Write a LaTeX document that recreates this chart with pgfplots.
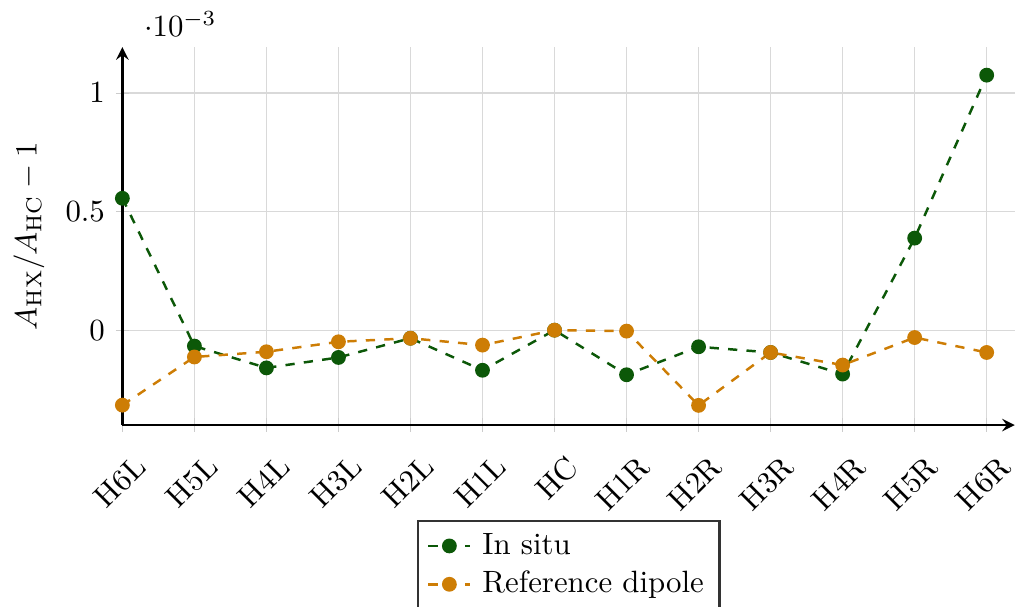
\documentclass[border=0pt]{standalone}
\usepackage{pgfplots}
\pgfplotsset{compat=1.18}
\definecolor{insitu}{RGB}{12,88,8}
\definecolor{refdip}{RGB}{205,125,5}
\begin{document}
\begin{tikzpicture}
\begin{axis}[
  scale only axis,
  width=289.5pt, height=122.6pt,
  axis lines=left,
  axis line style={line width=0.8pt},
  xmin=0, xmax=12.39,
  ymin=-0.4e-3, ymax=1.193e-3,
  xtick={0,...,12},
  xticklabels={H6L,H5L,H4L,H3L,H2L,H1L,HC,H1R,H2R,H3R,H4R,H5R,H6R},
  x tick label style={xshift=3.4pt, yshift=-2.3pt, rotate=45, anchor=north east},
  ytick={0,0.5e-3,1e-3},
  scaled y ticks=base 10:3,
  every y tick scale label/.style={at={(yticklabel* cs:1.0,0)}, anchor=south west, xshift=3.5pt},
  tick align=center,
  major tick style={gray!40},
  grid=major,
  major grid style={gray!30},
  ylabel={$A_{\mathrm{HX}}/A_{\mathrm{HC}}-1$},
  legend style={at={(0.5,-0.25)}, anchor=north, legend cell align=left, draw=black!80, line width=0.8pt, column sep=1.5pt},
  legend image code/.code={\draw[mark repeat=2, mark phase=2] plot coordinates {(0cm,0cm) (0.24cm,0cm) (0.48cm,0cm)};},
]
\addplot[insitu, dashed, thick, mark=*, mark size=2pt, mark options={solid}] coordinates {
(0,0.556e-3) (1,-0.067e-3) (2,-0.159e-3) (3,-0.115e-3) (4,-0.034e-3) (5,-0.169e-3) (6,0) (7,-0.188e-3) (8,-0.070e-3) (9,-0.094e-3) (10,-0.185e-3) (11,0.388e-3) (12,1.075e-3)};
\addlegendentry{In situ}
\addplot[refdip, dashed, thick, mark=*, mark size=2pt, mark options={solid}] coordinates {
(0,-0.316e-3) (1,-0.113e-3) (2,-0.091e-3) (3,-0.049e-3) (4,-0.034e-3) (5,-0.063e-3) (6,0) (7,-0.004e-3) (8,-0.317e-3) (9,-0.094e-3) (10,-0.147e-3) (11,-0.031e-3) (12,-0.094e-3)};
\addlegendentry{Reference dipole}
\end{axis}
\pgfresetboundingbox
\useasboundingbox ([shift={(-39.7pt,-58.9pt)}]current axis.south west) rectangle ([shift={(0.4pt,15.3pt)}]current axis.north east);
\end{tikzpicture}
\end{document}
